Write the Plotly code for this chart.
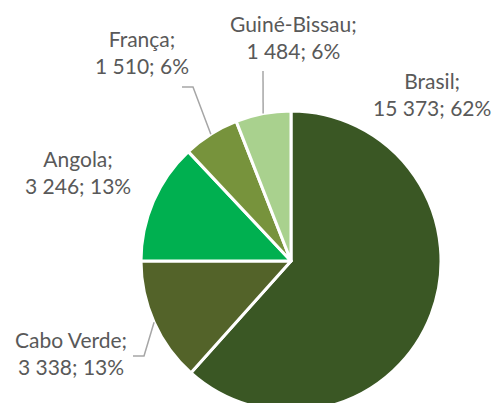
import math
import plotly.graph_objects as go

# ---- data ----
countries = ["Brasil", "Cabo Verde", "Angola", "França", "Guiné-Bissau"]
values = [15373, 3338, 3246, 1510, 1484]
colors = ["#3A5724", "#536329", "#00B050", "#77933C", "#A9D18E"]

# ---- layout constants (pixels) ----
W, H = 495, 412
CX, CY, R = 291, 261, 150

def px(x):
    return x / W

def py(y):
    return 1 - y / H

total = sum(values)

def fmt(v):
    return f"{v:,}".replace(",", " ")

def pct(v):
    return f"{round(100 * v / total)}%"

fig = go.Figure(go.Pie(
    labels=countries,
    values=values,
    sort=False,
    direction="clockwise",
    rotation=0,
    marker=dict(colors=colors, line=dict(color="white", width=3)),
    textinfo="none",
    hoverinfo="label+value+percent",
    showlegend=False,
    domain=dict(x=[px(CX - R), px(CX + R)], y=[py(CY + R), py(CY - R)]),
))

# label block centres (pixels)
label_pos = {
    "Brasil": (432, 94),
    "Cabo Verde": (71, 353),
    "Angola": (78, 172),
    "França": (142, 52),
    "Guiné-Bissau": (293, 37),
}
# leader line starting points near labels (pixels)
leader_start = {
    "Cabo Verde": [(133, 356), (144, 356)],
    "França": [(182, 87), (193, 87)],
    "Guiné-Bissau": [(263, 71)],
}

annotations = []
for c, v in zip(countries, values):
    x, y = label_pos[c]
    annotations.append(dict(
        x=px(x), y=py(y), xref="paper", yref="paper",
        text=f"{c};<br>{fmt(v)}; {pct(v)}",
        showarrow=False, xanchor="center", yanchor="middle",
        align="center",
        font=dict(family="Lato", size=21, color="#595959"),
    ))

shapes = []
cum = 0
for c, v in zip(countries, values):
    mid = (cum + v / 2) / total
    cum += v
    if c not in leader_start:
        continue
    ang = 2 * math.pi * mid
    ex = CX + R * math.sin(ang)
    ey = CY - R * math.cos(ang)
    pts = leader_start[c] + [(ex, ey)]
    path = "M " + " L ".join(f"{px(a)},{py(b)}" for a, b in pts)
    shapes.append(dict(type="path", xref="paper", yref="paper", path=path,
                       line=dict(color="#A6A6A6", width=1.5)))

fig.update_layout(
    width=W, height=H,
    margin=dict(l=0, r=0, t=0, b=0),
    paper_bgcolor="white",
    plot_bgcolor="white",
    annotations=annotations,
    shapes=shapes,
)

fig.write_html(
    "out.html",
    post_script="document.documentElement.style.overflow='hidden';document.body.style.overflow='hidden';document.body.style.margin='0';",
)
